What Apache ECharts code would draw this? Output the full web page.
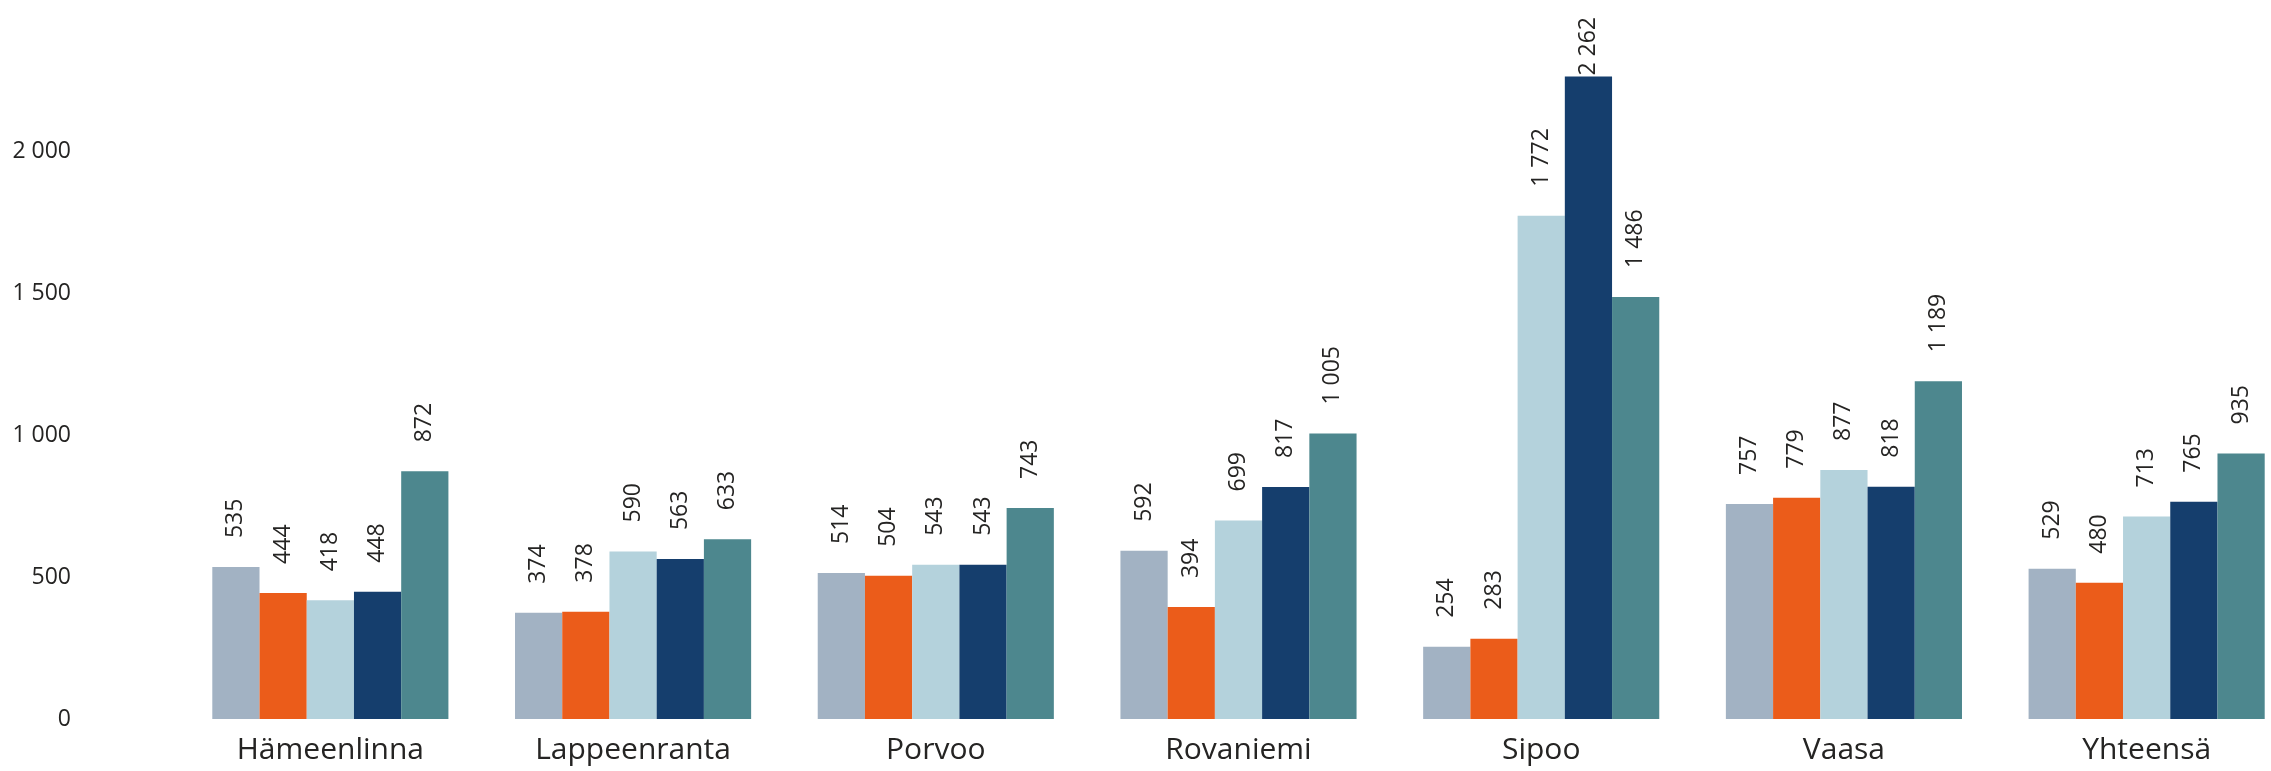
<!DOCTYPE html>
<html>
<head>
<meta charset="utf-8">
<script src="https://cdn.jsdelivr.net/npm/echarts@6/dist/echarts.min.js"></script>
<style>
html,body{margin:0;padding:0;background:#fff;overflow:hidden;}
#chart{width:2271px;height:771px;}
</style>
</head>
<body>
<div id="chart"></div>
<script>
const categories = ['Hämeenlinna', 'Lappeenranta', 'Porvoo', 'Rovaniemi', 'Sipoo', 'Vaasa', 'Yhteensä'];
const seriesNames = ['Sarja 1', 'Sarja 2', 'Sarja 3', 'Sarja 4', 'Sarja 5'];
const series1 = [535, 374, 514, 592, 254, 757, 529];
const series2 = [444, 378, 504, 394, 283, 779, 480];
const series3 = [418, 590, 543, 699, 1772, 877, 713];
const series4 = [448, 563, 543, 817, 2262, 818, 765];
const series5 = [872, 633, 743, 1005, 1486, 1189, 935];
const colors = ['#a2b2c3', '#eb5c1a', '#b4d2dc', '#153e6d', '#4d878e'];

const fmt = v => String(v).replace(/\B(?=(\d{3})+(?!\d))/g, ' ');
const font = '"Open Sans", "Noto Sans", sans-serif';

const chart = echarts.init(document.getElementById('chart'));
const allData = [series1, series2, series3, series4, series5];
chart.setOption({
  animation: false,
  grid: { left: 179, width: 2119, top: 9, bottom: 52, containLabel: false, outerBoundsMode: 'none' },
  xAxis: {
    type: 'category',
    data: categories,
    axisLine: { show: false },
    axisTick: { show: false },
    axisLabel: { fontSize: 30, color: '#252423', fontFamily: font, margin: 16 }
  },
  yAxis: {
    type: 'value',
    min: 0, max: 2500, interval: 500,
    axisLine: { show: false },
    axisTick: { show: false },
    splitLine: { show: false },
    axisLabel: {
      fontSize: 23, color: '#252423', fontFamily: font, margin: 108,
      showMaxLabel: false,
      formatter: v => fmt(v)
    }
  },
  series: allData.map((d, i) => ({
    name: seriesNames[i],
    type: 'bar',
    data: d.map(v => v > 2200 ? { value: v, label: { distance: 1 } } : v),
    barGap: '0%',
    barCategoryGap: '22%',
    itemStyle: { color: colors[i] },
    label: {
      show: true,
      position: 'top',
      rotate: 90,
      align: 'left',
      verticalAlign: 'middle',
      distance: 29,
      fontSize: 23,
      color: '#252423',
      fontFamily: font,
      formatter: p => fmt(p.value)
    }
  }))
});
</script>
</body>
</html>
